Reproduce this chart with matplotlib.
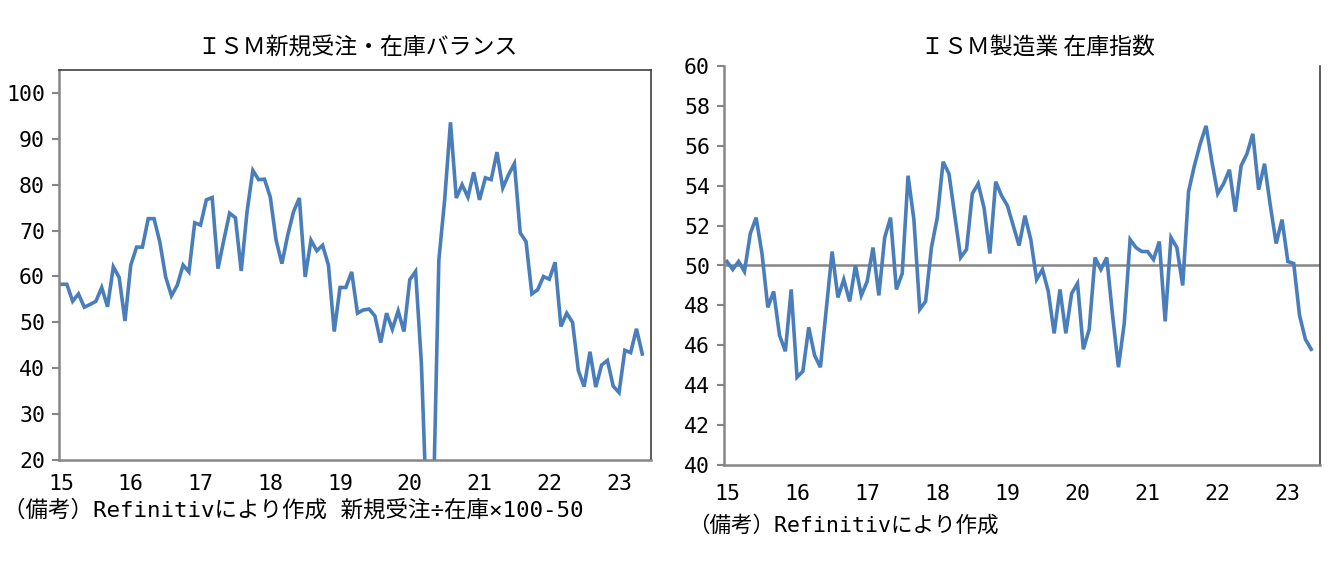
import matplotlib

matplotlib.use("Agg")
import matplotlib.pyplot as plt
import numpy as np

# monospaced latin + CJK fallback, close to the gothic face of the original
plt.rcParams["font.family"] = ["DejaVu Sans Mono", "Noto Sans CJK JP"]

LINE = "#4a7ebb"
AXIS = "#868686"
FRAME = "#404040"
CJK = ["Noto Sans CJK JP", "DejaVu Sans"]

YEAR_LABELS = ["15", "16", "17", "18", "19", "20", "21", "22", "23"]

# 新規受注÷在庫×100-50, monthly 2015-01 .. 2023-05 (Apr/May 2020 off-scale)
balance = [
    58.3, 58.3, 54.6, 56.2, 53.3, 53.9, 54.6, 57.6, 53.4, 62.1, 59.8, 50.3,
    62.5, 66.4, 66.4, 72.6, 72.6, 67.5, 59.9, 55.8, 58.1, 62.5, 61.0, 71.7,
    71.2, 76.7, 77.2, 61.7, 67.9, 73.8, 72.8, 61.2, 74.1, 83.1, 81.1, 81.2,
    77.3, 67.9, 62.8, 69.0, 74.1, 77.1, 59.9, 67.9, 65.6, 66.8, 62.5, 48.0,
    57.6, 57.6, 61.0, 52.0, 52.7, 52.9, 51.4, 45.6, 52.0, 48.5, 52.5, 48.0,
    59.3, 61.1, 41.0, 5.0, 7.0, 63.6, 76.7, 93.6, 77.1, 80.0, 77.3, 82.7,
    76.7, 81.5, 81.1, 87.1, 79.3, 82.2, 84.6, 69.5, 67.6, 56.2, 57.1, 60.0,
    59.4, 63.1, 49.1, 52.0, 50.0, 39.5, 36.0, 43.6, 35.9, 40.7, 41.7, 36.1,
    34.7, 43.9, 43.4, 48.6, 43.1,
]

# ISM製造業 在庫指数, monthly 2015-01 .. 2023-05
inventory = [
    50.2, 49.8, 50.2, 49.7, 51.6, 52.4, 50.6, 47.9, 48.7, 46.5, 45.7, 48.8,
    44.4, 44.7, 46.9, 45.5, 44.9, 47.8, 50.7, 48.4, 49.3, 48.2, 50.0, 48.5,
    49.2, 50.9, 48.5, 51.4, 52.4, 48.8, 49.6, 54.5, 52.3, 47.8, 48.2, 50.9,
    52.4, 55.2, 54.6, 52.5, 50.4, 50.8, 53.6, 54.1, 52.9, 50.6, 54.2, 53.5,
    53.0, 52.0, 51.0, 52.5, 51.3, 49.3, 49.8, 48.7, 46.6, 48.8, 46.6, 48.6,
    49.1, 45.8, 46.8, 50.4, 49.8, 50.4, 47.5, 44.9, 47.1, 51.3, 50.9, 50.7,
    50.7, 50.3, 51.2, 47.2, 51.4, 50.9, 49.0, 53.7, 55.0, 56.1, 57.0, 55.2,
    53.6, 54.1, 54.8, 52.7, 55.0, 55.6, 56.6, 53.8, 55.1, 53.0, 51.1, 52.3,
    50.2, 50.1, 47.5, 46.3, 45.8,
]


def style_axes(ax, frame_top=True):
    for side in ("left", "bottom"):
        ax.spines[side].set_color(AXIS)
        ax.spines[side].set_linewidth(1.8)
    for side in ("top", "right"):
        ax.spines[side].set_color(FRAME)
        ax.spines[side].set_linewidth(1.2)
    ax.spines["top"].set_visible(frame_top)
    ax.tick_params(axis="y", length=5, width=1.5, color=AXIS, labelsize=15.5,
                   pad=5)
    ax.tick_params(axis="x", length=0, labelsize=15.5)
    ax.set_xticks(np.arange(0, 97, 12))
    ax.set_xticklabels(YEAR_LABELS)


fig = plt.figure(figsize=(13.3, 5.76), dpi=100)

# left panel
ax1 = fig.add_axes([59 / 1330, 116 / 576, 592 / 1330, 390 / 576])
ax1.plot(np.arange(len(balance)), balance, color=LINE, lw=2.6,
         solid_joinstyle="miter")
ax1.set_xlim(-0.35, 101.5)
ax1.set_ylim(20, 105)
ax1.set_yticks(np.arange(20, 101, 10))
style_axes(ax1)
ax1.tick_params(axis="x", pad=10)
fig.text(357 / 1330, 1 - 47 / 576, "ＩＳＭ新規受注・在庫バランス",
         ha="center", va="center", fontsize=16.5, family=CJK)
fig.text(3 / 1330, 1 - 510 / 576,
         "（備考）Refinitivにより作成 新規受注÷在庫×100-50",
         ha="left", va="center", fontsize=16.2)

# right panel
ax2 = fig.add_axes([724 / 1330, 111 / 576, 596 / 1330, 399 / 576])
ax2.axhline(50, color=AXIS, lw=1.8, zorder=1)
ax2.plot(np.arange(len(inventory)), inventory, color=LINE, lw=2.6,
         solid_joinstyle="miter", zorder=2)
ax2.set_xlim(-0.5, 101.5)
ax2.set_ylim(40, 60)
ax2.set_yticks(np.arange(40, 61, 2))
style_axes(ax2, frame_top=False)
ax2.tick_params(axis="x", pad=14)
fig.text(1038 / 1330, 1 - 47 / 576, "ＩＳＭ製造業 在庫指数",
         ha="center", va="center", fontsize=16.5, family=CJK)
fig.text(688 / 1330, 1 - 525 / 576, "（備考）Refinitivにより作成",
         ha="left", va="center", fontsize=15.5)

fig.savefig("out.png", dpi=100)
